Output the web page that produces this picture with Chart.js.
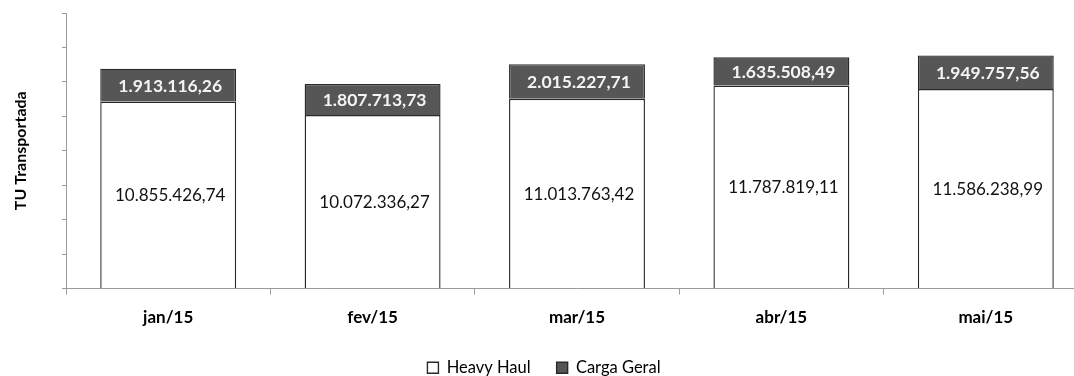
<!DOCTYPE html>
<html>
<head>
<meta charset="utf-8">
<script src="https://cdn.jsdelivr.net/npm/chart.js@4.4.1/dist/chart.umd.min.js"></script>
<style>
  html, body { margin: 0; padding: 0; background: #ffffff; overflow: hidden; }
  #wrap { width: 1092px; height: 376px; }
</style>
</head>
<body>
<div id="wrap"><canvas id="chart" width="1092" height="376"></canvas></div>
<script>
// Monthly tonnage (TU) by freight type
const months = ['jan/15', 'fev/15', 'mar/15', 'abr/15', 'mai/15'];
const heavyHaul = [10855426.74, 10072336.27, 11013763.42, 11787819.11, 11586238.99];
const cargaGeral = [1913116.26, 1807713.73, 2015227.71, 1635508.49, 1949757.56];
const seriesNames = ['Heavy Haul', 'Carga Geral'];
const axisTitle = 'TU Transportada';
const yMax = 16000000;
const yStep = 2000000;

// Brazilian number format: 1.234.567,89
function formatBR(v) {
  const parts = v.toFixed(2).split('.');
  parts[0] = parts[0].replace(/\B(?=(\d{3})+(?!\d))/g, '.');
  return parts[0] + ',' + parts[1];
}

const FONT = 'Lato, "Open Sans", sans-serif';
const AXIS_GREY = '#9a9a9a';
const BAR_EDGE = '#2a2a2a';

// Writes each segment's value centred inside its bar
const segmentLabels = {
  id: 'segmentLabels',
  afterDatasetsDraw(chart) {
    const ctx = chart.ctx;
    ctx.save();
    ctx.textAlign = 'center';
    ctx.textBaseline = 'middle';
    chart.data.datasets.forEach((ds, di) => {
      const meta = chart.getDatasetMeta(di);
      meta.data.forEach((bar, i) => {
        const p = bar.getProps(['x', 'y', 'base'], true);
        const cy = (p.y + p.base) / 2;
        ctx.font = ds.labelFont;
        ctx.fillStyle = ds.labelColor;
        ctx.fillText(formatBR(ds.data[i]), p.x + 2, cy + 1);
      });
    });
    ctx.restore();
  }
};

new Chart(document.getElementById('chart'), {
  type: 'bar',
  data: {
    labels: months,
    datasets: [
      {
        label: seriesNames[0],
        data: heavyHaul,
        backgroundColor: '#ffffff',
        borderColor: BAR_EDGE,
        borderWidth: 1.4,
        labelFont: '17px ' + FONT,
        labelColor: '#111111'
      },
      {
        label: seriesNames[1],
        data: cargaGeral,
        backgroundColor: '#565656',
        borderColor: BAR_EDGE,
        borderWidth: 1.4,
        labelFont: 'bold 17.5px ' + FONT,
        labelColor: '#f4f4f4'
      }
    ]
  },
  options: {
    responsive: false,
    animation: false,
    devicePixelRatio: 1,
    datasets: { bar: { barPercentage: 0.665, categoryPercentage: 1 } },
    layout: { padding: { top: 13, right: 4, left: 0, bottom: -10 } },
    scales: {
      x: {
        stacked: true,
        afterFit(scale) { scale.height = 45; },
        grid: { display: true, drawOnChartArea: false, drawTicks: true, tickLength: 6, color: AXIS_GREY, offset: true },
        border: { display: true, color: AXIS_GREY, width: 1 },
        ticks: { color: '#000000', padding: 13, font: { family: FONT, size: 17, weight: 'bold' } }
      },
      y: {
        stacked: true,
        min: 0,
        max: yMax,
        afterFit(scale) { scale.width = 66; },
        grid: { display: true, drawOnChartArea: false, drawTicks: true, tickLength: 4, color: AXIS_GREY },
        border: { display: true, color: AXIS_GREY, width: 1 },
        ticks: { display: false, stepSize: yStep },
        title: {
          display: true,
          text: axisTitle,
          color: '#000000',
          padding: { top: 11, bottom: 0 },
          font: { family: FONT, size: 16, weight: 'bold' }
        }
      }
    },
    plugins: {
      legend: {
        position: 'bottom',
        labels: {
          color: '#000000',
          boxWidth: 11,
          boxHeight: 11,
          padding: 26,
          font: { family: FONT, size: 16.5 }
        }
      },
      tooltip: { enabled: false }
    }
  },
  plugins: [segmentLabels]
});
</script>
</body>
</html>
